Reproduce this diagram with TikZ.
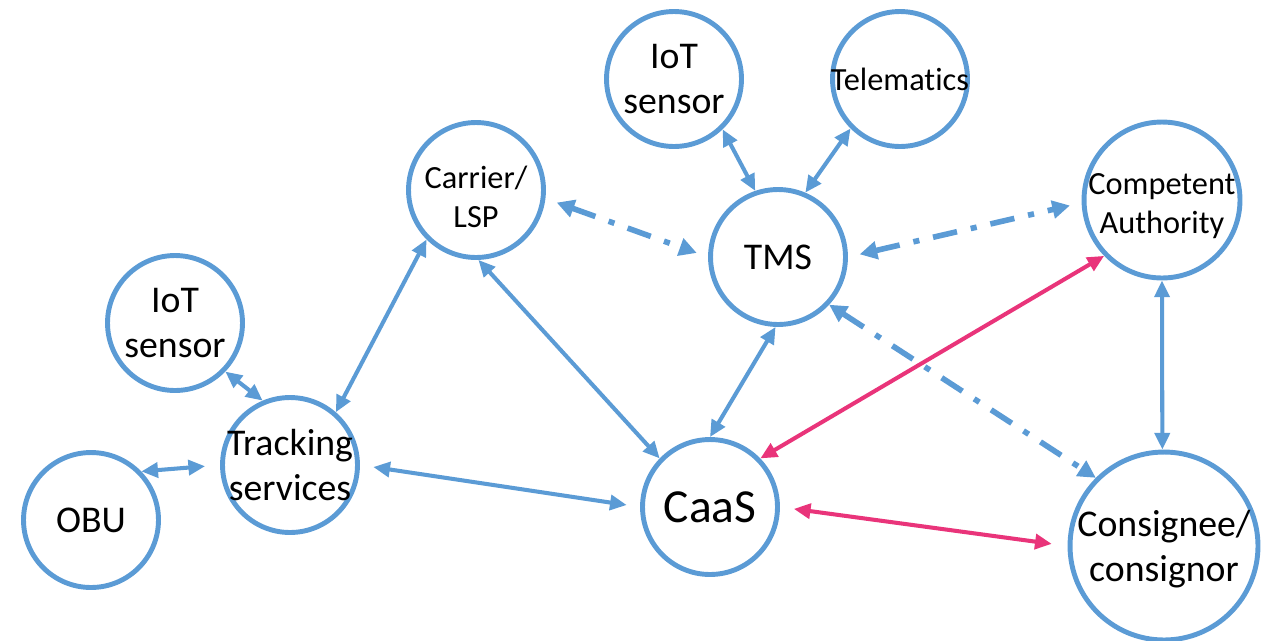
\documentclass[tikz,border=0pt]{standalone}
\usepackage{fontspec}
\setmainfont[Ligatures=NoCommon]{Carlito}
\usetikzlibrary{arrows.meta}
\definecolor{unitblue}{RGB}{91,155,213}
\definecolor{linkpink}{RGB}{233,52,122}

\begin{document}
\begin{tikzpicture}[x=0.02cm, y=-0.02cm,
    unit/.style={circle, draw=unitblue, line width=2.8pt, minimum size=2.7cm, inner sep=0pt},
    lbl/.style={align=center, inner sep=0pt, font=\fontsize{21.5}{25.5}\selectfont},
    lblsmall/.style={lbl, font=\fontsize{18.4}{21.8}\selectfont},
    link/.style={draw=unitblue, line width=2.3pt, {Triangle[length=9.5pt,width=8.5pt]}-{Triangle[length=9.5pt,width=8.5pt]}},
    feed/.style={link, line width=3.2pt, dash pattern=on 14pt off 8pt on 3.5pt off 8pt, {Triangle[length=10pt,width=10pt]}-{Triangle[length=10pt,width=10pt]}},
    hot/.style={link, draw=linkpink},
    loose/.style={shorten <=#1, shorten >=#1}]

\useasboundingbox (0,0) rectangle (1266,640);

% Units (blue circles), placed in pixel coordinates
\node[unit] (iottop) at (674,79) {};
\node[unit] (telem) at (900,79) {};
\node[unit] (carrier) at (476,190) {};
\node[unit] (tms) at (778,257) {};
\node[unit, minimum size=3.12cm] (ca) at (1162,200) {};
\node[unit] (iotleft) at (175,323) {};
\node[unit] (track) at (290,465) {};
\node[unit] (obu) at (91,520) {};
\node[unit] (caas) at (710,507) {};
\node[unit, minimum size=3.76cm] (cons) at (1164,546) {};

% Solid links
\foreach \a/\b in {iottop.-46/tms.109, telem.-135/tms.67, carrier.-135/track.49, carrier.-88/caas.136, tms.-92/caas.90, ca.-90/cons.91, iotleft.-44/track.113}
{
    \draw[link] (\a) -- (\b);
}
\draw[link, shorten >=0.3cm] (obu.44) -- (track.180);
\draw[link, loose=0.27cm] (track.0) -- (caas.180);

% Dash-dot links
\draw[feed, loose=0.24cm] (carrier.-7) -- (tms.180);
\draw[feed, loose=0.24cm] (tms.0) -- (ca.182);
\draw[feed] (tms.-43) -- (cons.135);

% Pink links
\draw[hot] (ca.-136) -- (caas.44);
\draw[hot, shorten <=0.28cm, shorten >=0.32cm] (caas.0) -- (cons.180);

% Labels
\node[lbl] (iottop-t) at (iottop) {IoT\\sensor};
\node[lblsmall] (telem-t) at (telem) {Telematics};
\node[lblsmall] (carrier-t) at ([yshift=-0.14cm]carrier) {Carrier/\\LSP};
\node[lbl] (tms-t) at (tms) {TMS};
\node[lblsmall] (ca-t) at ([yshift=-0.12cm]ca) {Competent\\Authority};
\node[lbl] (iotleft-t) at (iotleft) {IoT\\sensor};
\node[lbl] (track-t) at (track) {Tracking\\services};
\node[lbl] (obu-t) at (obu) {OBU};
\node[lbl, font=\fontsize{27}{32}\selectfont] (caas-t) at (caas) {CaaS};
\node[lbl] (cons-t) at ([yshift=-0.06cm]cons) {Consignee/\\consignor};

\end{tikzpicture}
\end{document}
